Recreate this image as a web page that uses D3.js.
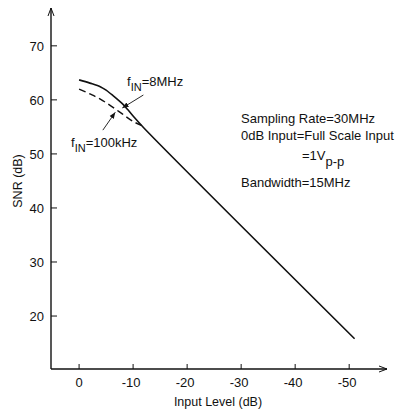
<!DOCTYPE html>
<html>
<head>
<meta charset="utf-8">
<script src="https://cdn.jsdelivr.net/npm/d3@7"></script>
<style>
  body { margin: 0; background: #fff; }
  text { font-family: "Liberation Sans", Arial, sans-serif; fill: #111; }
</style>
</head>
<body>
<svg id="chart" width="400" height="409"></svg>
<script>
const width = 400;
const height = 409;

// data
const xTicks = [0, -10, -20, -30, -40, -50];
const yTicks = [20, 30, 40, 50, 60, 70];

const level8M = [0, -2, -4, -5, -6, -7, -8, -9, -10, -12, -51];
const snr8M = [63.7, 63.1, 62.4, 61.8, 61.0, 60.2, 59.3, 58.2, 57.0, 54.8, 15.8];

const level100k = [0, -2, -4, -6, -8, -10, -11.5];
const snr100k = [62.0, 61.1, 60.1, 58.8, 57.4, 56.0, 55.3];

const notes = ["Sampling Rate=30MHz", "0dB Input=Full Scale Input", "=1V", "Bandwidth=15MHz"];

const svg = d3.select("#chart");

const x = d3.scaleLinear().domain([5.2, -57]).range([51, 387]);
const y = d3.scaleLinear().domain([10.2, 77]).range([369, 8]);

const ink = "#111";

// axes
svg.append("line")
  .attr("x1", x(5.2)).attr("x2", x(-57))
  .attr("y1", y(10.2)).attr("y2", y(10.2))
  .attr("stroke", ink).attr("stroke-width", 1.4);
svg.append("line")
  .attr("x1", x(5.2)).attr("x2", x(5.2))
  .attr("y1", y(10.2)).attr("y2", y(77))
  .attr("stroke", ink).attr("stroke-width", 1.4);

// arrow heads on the axes
svg.append("path")
  .attr("d", `M${x(-57) - 8},${y(10.2) - 3} L${x(-57)},${y(10.2)} L${x(-57) - 8},${y(10.2) + 3}`)
  .attr("fill", "none").attr("stroke", ink).attr("stroke-width", 1);
svg.append("path")
  .attr("d", `M${x(5.2) - 3},${y(77) + 8} L${x(5.2)},${y(77)} L${x(5.2) + 3},${y(77) + 8}`)
  .attr("fill", "none").attr("stroke", ink).attr("stroke-width", 1);

// x ticks
const xt = svg.append("g");
xt.selectAll("line").data(xTicks).enter().append("line")
  .attr("x1", d => x(d)).attr("x2", d => x(d))
  .attr("y1", y(10.2)).attr("y2", y(10.2) - 5)
  .attr("stroke", ink).attr("stroke-width", 1);
xt.selectAll("text").data(xTicks).enter().append("text")
  .attr("x", d => x(d) - (d < 0 ? 2 : 0))
  .attr("y", 387)
  .attr("text-anchor", "middle")
  .style("font-size", "13px")
  .text(d => d === 0 ? "0" : "-" + Math.abs(d));

// y ticks
const yt = svg.append("g");
yt.selectAll("line").data(yTicks).enter().append("line")
  .attr("x1", x(5.2)).attr("x2", x(5.2) + 6)
  .attr("y1", d => y(d)).attr("y2", d => y(d))
  .attr("stroke", ink).attr("stroke-width", 1);
yt.selectAll("text").data(yTicks).enter().append("text")
  .attr("x", 44)
  .attr("y", d => y(d) + 5)
  .attr("text-anchor", "end")
  .style("font-size", "13px")
  .text(d => d);

// axis titles
svg.append("text")
  .attr("x", 218).attr("y", 406)
  .attr("text-anchor", "middle")
  .style("font-size", "12.5px")
  .text("Input Level (dB)");
svg.append("text")
  .attr("transform", "translate(22,181) rotate(-90)")
  .attr("text-anchor", "middle")
  .style("font-size", "12.5px")
  .text("SNR (dB)");

// curves
const line = d3.line()
  .x(d => x(d[0]))
  .y(d => y(d[1]))
  .curve(d3.curveCatmullRom.alpha(0.5));

svg.append("path")
  .datum(d3.zip(level8M, snr8M))
  .attr("d", line)
  .attr("fill", "none")
  .attr("stroke", ink)
  .attr("stroke-width", 1.6);

svg.append("path")
  .datum(d3.zip(level100k, snr100k))
  .attr("d", line)
  .attr("fill", "none")
  .attr("stroke", ink)
  .attr("stroke-width", 1.4)
  .attr("stroke-dasharray", "7,4");

// pointer arrows
svg.append("defs").append("marker")
  .attr("id", "head")
  .attr("viewBox", "0 0 10 10")
  .attr("refX", 10).attr("refY", 5)
  .attr("markerWidth", 7).attr("markerHeight", 7)
  .attr("orient", "auto")
  .append("path")
  .attr("d", "M0,1 L10,5 L0,9 Z")
  .attr("fill", ink);

svg.append("line")
  .attr("x1", x(-11.9)).attr("y1", y(60.9))
  .attr("x2", x(-8.0)).attr("y2", y(58.5))
  .attr("stroke", ink).attr("stroke-width", 0.9)
  .attr("marker-end", "url(#head)");

svg.append("line")
  .attr("x1", x(-4.4)).attr("y1", y(54.4))
  .attr("x2", x(-6.7)).attr("y2", y(57.7))
  .attr("stroke", ink).attr("stroke-width", 0.9)
  .attr("marker-end", "url(#head)");

// curve labels
function label(px, py, sub, rest) {
  const t = svg.append("text")
    .attr("x", px).attr("y", py)
    .style("font-size", "13px");
  t.append("tspan").text("f");
  t.append("tspan").attr("dy", 5).style("font-size", "11px").text(sub);
  t.append("tspan").attr("dy", -5).text(rest);
}
label(127, 86, "IN", "=8MHz");
label(71, 147, "IN", "=100kHz");

// conditions note
svg.append("text").attr("x", 241).attr("y", 123).style("font-size", "13px").text(notes[0]);
svg.append("text").attr("x", 241).attr("y", 140).style("font-size", "13px").text(notes[1]);
const vpp = svg.append("text").attr("x", 302).attr("y", 160).style("font-size", "13px");
vpp.append("tspan").text(notes[2]);
vpp.append("tspan").attr("dy", 6).text("p-p");
svg.append("text").attr("x", 241).attr("y", 187).style("font-size", "13px").text(notes[3]);
</script>
</body>
</html>
